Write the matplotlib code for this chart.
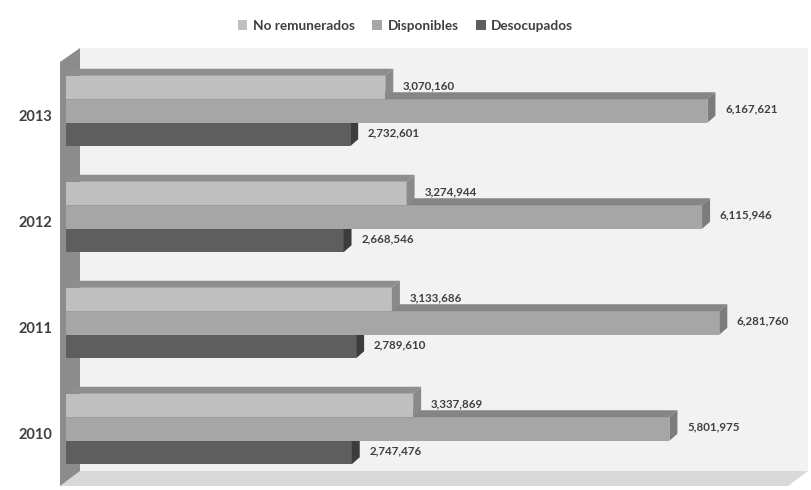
import matplotlib
matplotlib.use("Agg")
import matplotlib.pyplot as plt
import matplotlib.transforms as mtransforms
from matplotlib.patches import Polygon, Rectangle, Patch

# data
years = ["2010", "2011", "2012", "2013"]
no_remunerados = [3337869, 3133686, 3274944, 3070160]
disponibles = [5801975, 6281760, 6115946, 6167621]
desocupados = [2747476, 2789610, 2668546, 2732601]

series_names = ["No remunerados", "Disponibles", "Desocupados"]
front_colors = ["#bfbfbf", "#a6a6a6", "#5e5e5e"]
top_colors = ["#8e8e8e", "#858585", "#4a4a4a"]
side_colors = ["#8a8a8a", "#7c7c7c", "#3c3c3c"]
text_color = "#3f3f3f"

W, H = 811, 490
# layout in pixels
X0 = 66            # pixel where value 0 sits
PX_PER_UNIT = 1.040e-4
ROW0 = 429         # pixel row (from top) of the first category centre
PITCH = 106        # pixels between categories
BAR_PX = 23.5      # height of each bar front face
DEPTH = (8, 7)     # 3d depth offset of bars (right, up) in pixels

plt.rcParams["font.family"] = ["Lato", "DejaVu Sans"]

fig = plt.figure(figsize=(W / 100, H / 100), dpi=100)
fig.patch.set_facecolor("white")

# background: walls and floor in pixel space
bg = fig.add_axes([0, 0, 1, 1], zorder=0)
bg.set_xlim(0, W)
bg.set_ylim(H, 0)
bg.axis("off")
bg.add_patch(Rectangle((80, 48), 728, 423, facecolor="#f2f2f2", edgecolor="none"))
bg.add_patch(Polygon([(60, 486), (788, 486), (808, 471), (80, 471)],
                     closed=True, facecolor="#d9d9d9", edgecolor="none"))
bg.add_patch(Polygon([(60, 62), (80, 48), (80, 471), (60, 486)],
                     closed=True, facecolor="#8c8c8c", edgecolor="none"))

ax = fig.add_axes([0, 0, 1, 1], zorder=1)
ax.patch.set_alpha(0)
ax.set_xlim(-X0 / PX_PER_UNIT, (W - X0) / PX_PER_UNIT)
ax.set_ylim((ROW0 - H) / PITCH, ROW0 / PITCH)
ax.axis("off")

# depth offset expressed in data units
p0 = ax.transData.inverted().transform((0, 0))
p1 = ax.transData.inverted().transform(DEPTH)
ddx, ddy = p1 - p0
bar_h = BAR_PX / PITCH

values = [no_remunerados, disponibles, desocupados]
offsets = [bar_h, 0.0, -bar_h]

# draw bottom bars first so the upper ones sit on top of them
for s in [2, 1, 0]:
    for i, v in enumerate(values[s]):
        c = i + offsets[s]
        lo, hi = c - bar_h / 2, c + bar_h / 2
        ax.add_patch(Rectangle((0, lo), v, bar_h, facecolor=front_colors[s],
                               edgecolor="none"))
        ax.add_patch(Polygon([(0, hi), (v, hi), (v + ddx, hi + ddy), (ddx, hi + ddy)],
                             closed=True, facecolor=top_colors[s], edgecolor="none"))
        ax.add_patch(Polygon([(v, lo), (v, hi), (v + ddx, hi + ddy), (v + ddx, lo + ddy)],
                             closed=True, facecolor=side_colors[s], edgecolor="none"))
        ax.text(v + ddx * 2.2, c + ddy * 0.3, f"{v:,}", ha="left", va="center",
                fontsize=8.3, fontweight="bold", color=text_color)

# category labels
lab_trans = mtransforms.blended_transform_factory(fig.transFigure, ax.transData)
for i, y in enumerate(years):
    ax.text(52 / W, i - 6 / PITCH, y, transform=lab_trans, ha="right", va="center",
            fontsize=10.5, fontweight="bold", color=text_color)

handles = [Patch(facecolor=front_colors[s], edgecolor="none", label=series_names[s])
           for s in range(3)]
fig.legend(handles=handles, loc="center", bbox_to_anchor=(0.5, 1 - 26 / H), ncol=3,
           frameon=False, handlelength=0.7, handleheight=0.7, handletextpad=0.4,
           columnspacing=1.3, prop={"size": 9.8, "weight": "bold"}, labelcolor=text_color)

fig.savefig("out.png", dpi=100, facecolor="white")
